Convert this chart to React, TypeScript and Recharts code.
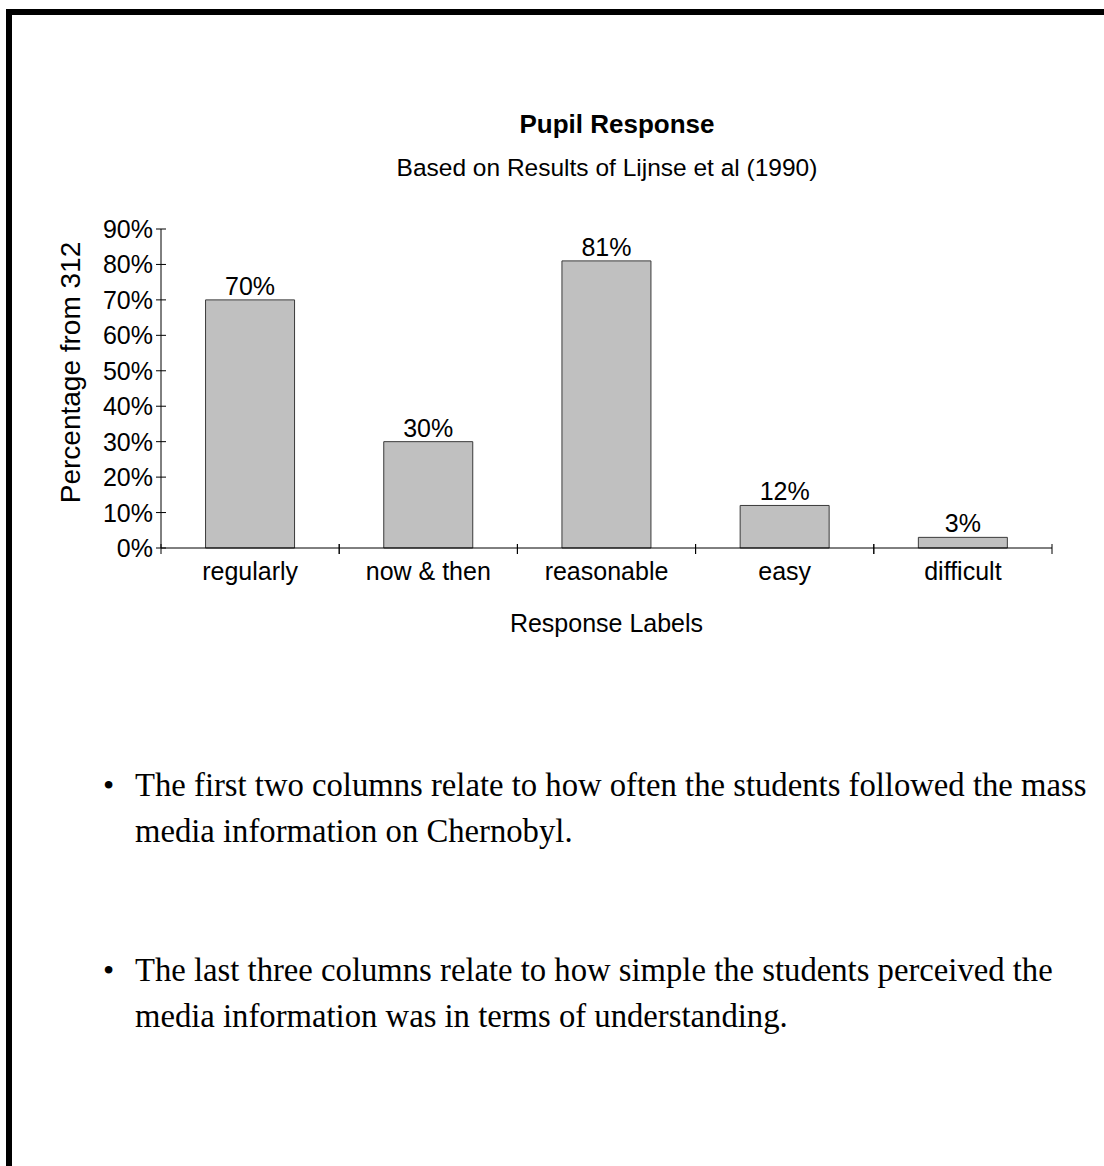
import { BarChart, Bar, XAxis, YAxis, LabelList, Label } from 'recharts';

const categories = ['regularly', 'now & then', 'reasonable', 'easy', 'difficult'];
const percents = [70, 30, 81, 12, 3];
const yTicks = [0, 10, 20, 30, 40, 50, 60, 70, 80, 90];

const data = categories.map((label, i) => ({ label, value: percents[i] }));

const SANS = '"Liberation Sans", Arial, sans-serif';
const SERIF = '"Liberation Serif", "Times New Roman", serif';
const FS = 25;

function YTick({ x, y, payload }: any) {
  return (
    <g>
      <line x1={x + 3} x2={x + 13} y1={y} y2={y} stroke="#000" />
      <text x={x} y={y} textAnchor="end" dominantBaseline="central" fontFamily={SANS} fontSize={FS} fill="#000">
        {payload.value}%
      </text>
    </g>
  );
}

// category label plus the tick marks on the band edges
function XTick({ x, y, payload }: any) {
  const half = payload.offset || 0;
  const axisY = y - 14;
  return (
    <g>
      <line x1={x - half} x2={x - half} y1={axisY - 4} y2={axisY + 6} stroke="#000" />
      <line x1={x + half} x2={x + half} y1={axisY - 4} y2={axisY + 6} stroke="#000" />
      <text x={x} y={y} dy="0.72em" textAnchor="middle" fontFamily={SANS} fontSize={FS} fill="#000">
        {payload.value}
      </text>
    </g>
  );
}

function YLabel({ viewBox }: any) {
  const cx = viewBox.x + 70;
  const cy = viewBox.y + viewBox.height / 2 - 16;
  return (
    <text x={cx} y={cy} transform={`rotate(-90, ${cx}, ${cy})`} textAnchor="middle" dominantBaseline="central"
      fontFamily={SANS} fontSize={28} fill="#000">
      Percentage from 312
    </text>
  );
}

export default function App() {
  return (
    <div style={{ position: 'absolute', left: 0, top: 0, width: 1104, height: 1166, background: '#fff', overflow: 'hidden' }}>
      <div style={{ position: 'absolute', left: 6, top: 9, width: 1200, height: 1300, borderTop: '6px solid #000', borderLeft: '6px solid #000' }} />

      <div style={{ position: 'absolute', left: 0, top: 0 }}>
        <div style={{ position: 'absolute', left: 120, width: 994, top: 107, textAlign: 'center', fontFamily: SANS, fontWeight: 'bold', fontSize: 26, lineHeight: '34px' }}>
          Pupil Response
        </div>
        <div style={{ position: 'absolute', left: 110, width: 994, top: 154, textAlign: 'center', fontFamily: SANS, fontSize: 24.5, lineHeight: '28px' }}>
          Based on Results of Lijnse et al (1990)
        </div>
        <BarChart width={1104} height={660} data={data} margin={{ top: 229, right: 52, left: 0, bottom: 72 }}
          barCategoryGap="25%">
          <XAxis dataKey="label" height={40} tickLine={false} tickSize={0} tickMargin={14} interval={0}
            axisLine={{ stroke: '#000' }} tick={<XTick />}>
            <Label value="Response Labels" position="bottom" offset={26} fill="#000" fontSize={FS} fontFamily={SANS} />
          </XAxis>
          <YAxis width={161} domain={[0, 90]} ticks={yTicks} interval={0} tickLine={false} tickSize={5} tickMargin={3}
            axisLine={{ stroke: '#000' }} tick={<YTick />}>
            <Label content={<YLabel />} />
          </YAxis>
          <Bar dataKey="value" fill="#c0c0c0" stroke="#3a3a3a" strokeWidth={1} isAnimationActive={false}>
            <LabelList dataKey="value" position="top" offset={5} fill="#000" fontSize={FS} fontFamily={SANS}
              formatter={(v: any) => `${v}%`} />
          </Bar>
        </BarChart>
      </div>

      <div style={{ position: 'absolute', left: 0, top: 0, fontFamily: SERIF, fontSize: 32.7, lineHeight: '46px', color: '#000' }}>
        <div style={{ position: 'absolute', left: 103, top: 762, fontSize: 32 }}>•</div>
        <div style={{ position: 'absolute', left: 135, top: 762, whiteSpace: 'nowrap' }}>
          The first two columns relate to how often the students followed the mass<br />
          media information on Chernobyl.
        </div>
        <div style={{ position: 'absolute', left: 103, top: 947, fontSize: 32 }}>•</div>
        <div style={{ position: 'absolute', left: 135, top: 947, whiteSpace: 'nowrap' }}>
          The last three columns relate to how simple the students perceived the<br />
          media information was in terms of understanding.
        </div>
      </div>
    </div>
  );
}
